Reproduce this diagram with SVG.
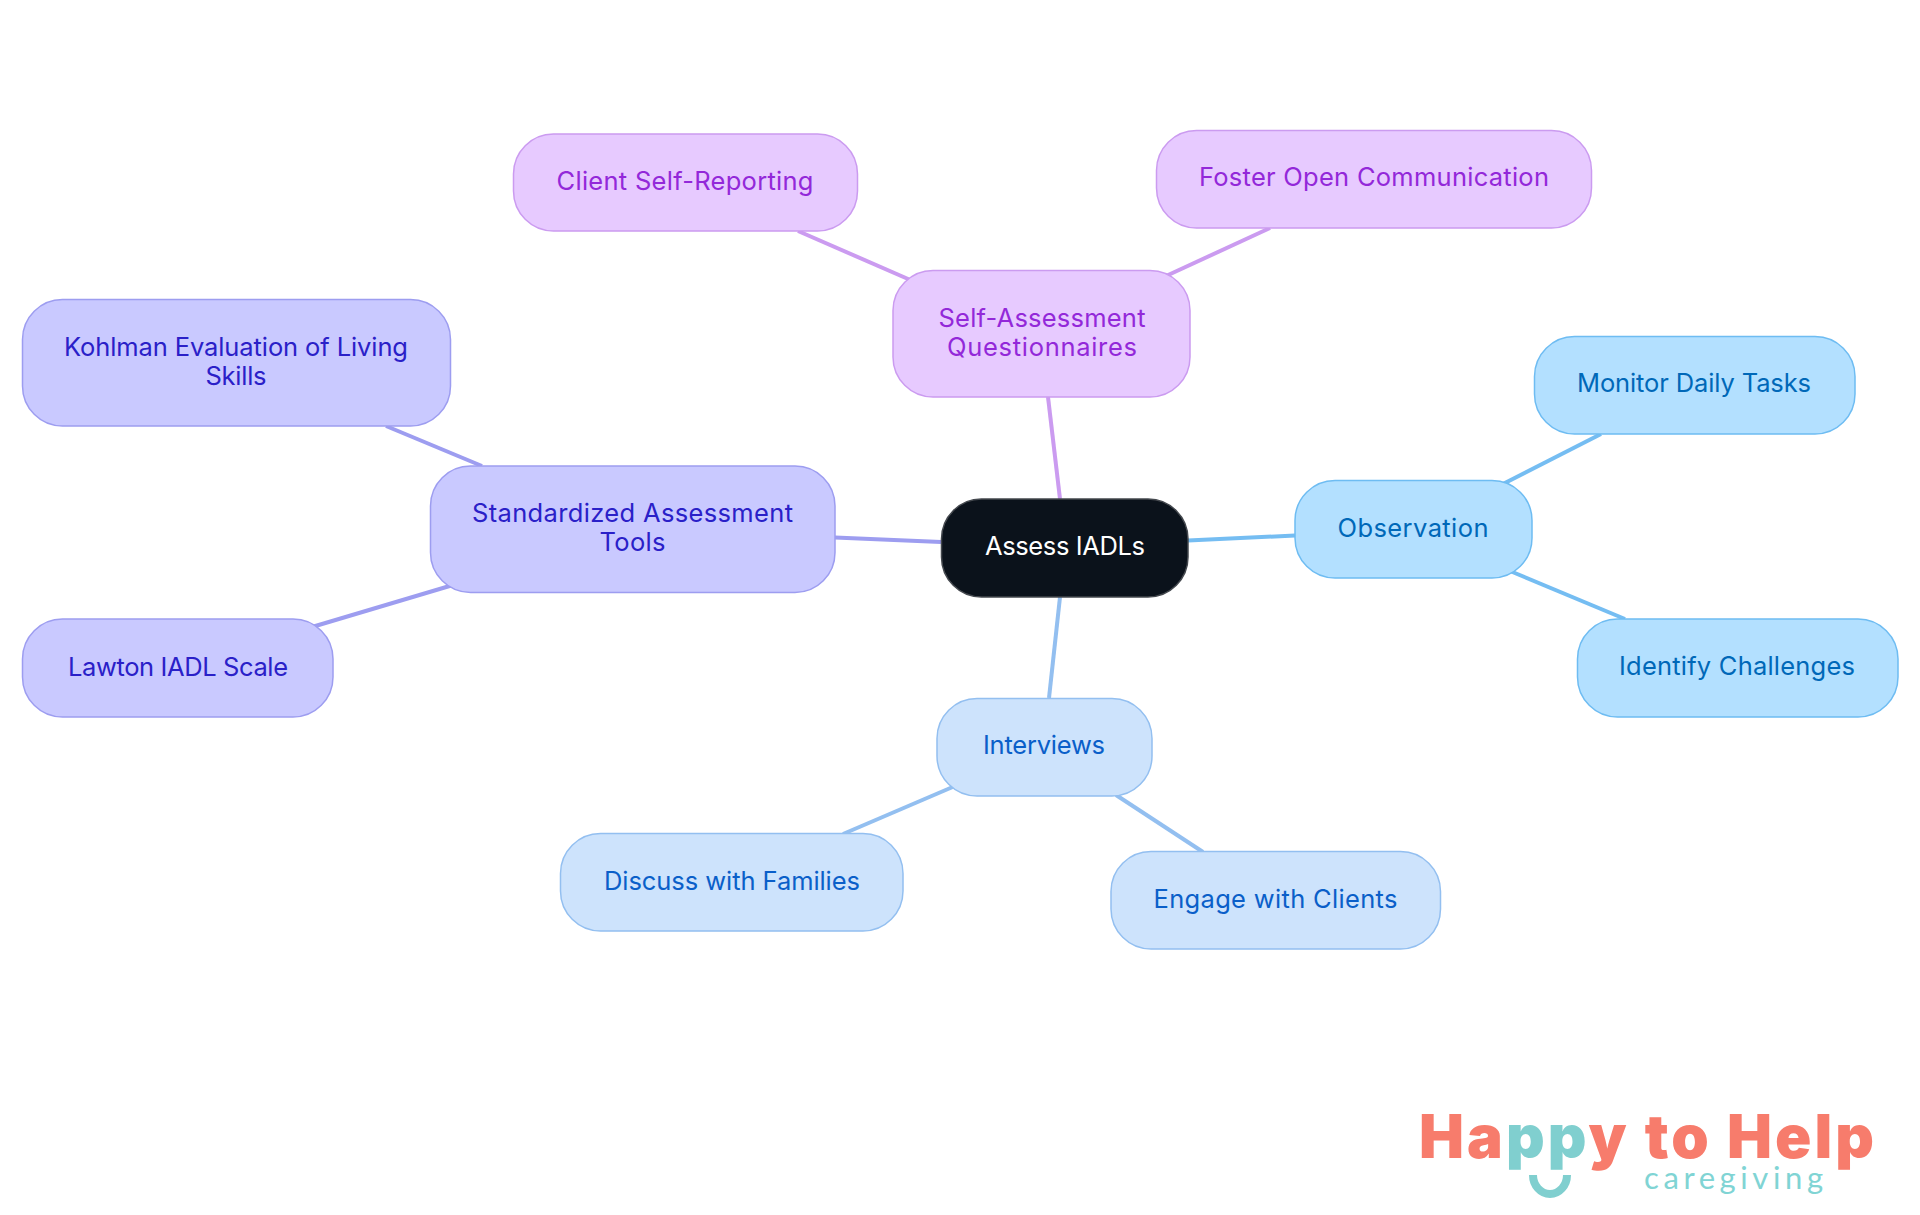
<svg xmlns="http://www.w3.org/2000/svg" width="1920" height="1215" viewBox="0 0 1920 1215">
<style>
text{font-family:"Inter","Noto Sans",sans-serif;font-size:25.5px;text-anchor:middle}
.n{stroke-width:1.5}
.l{fill:none;stroke-width:4}
.sky rect{fill:#b3e0ff;stroke:#6ebcf2}.sky text{fill:#0068b8}
.blue rect{fill:#cde3fc;stroke:#93bff0}.blue text{fill:#0a5fc9}
.ind rect{fill:#c9c9ff;stroke:#9d9df0}.ind text{fill:#2a20c8}
.pur rect{fill:#e7caff;stroke:#cb9bf0}.pur text{fill:#9328d9}
#logo .big{font-family:"Inter",sans-serif;font-weight:900;font-size:60px;text-anchor:start;fill:#f77c6c}
#logo .small{font-family:"Lato",sans-serif;font-size:31px;text-anchor:start;fill:#80d4d4}
</style>
<rect width="1920" height="1215" fill="#fff"/>
<g id="connectors" class="l">
<path d="M1188 540.500L1295 535.500" stroke="#75bdf2"/>
<path d="M1499 486L1601 434" stroke="#75bdf2"/>
<path d="M1510 571L1625 619" stroke="#75bdf2"/>
<path d="M1060 597L1049 698" stroke="#93bff0"/>
<path d="M955 786L843 834" stroke="#93bff0"/>
<path d="M1116 795L1203 852" stroke="#93bff0"/>
<path d="M941 542L835 537.500" stroke="#9d9df0"/>
<path d="M482 466L386 426" stroke="#9d9df0"/>
<path d="M453 585L312 627" stroke="#9d9df0"/>
<path d="M1060 499L1048 397" stroke="#cb9bf0"/>
<path d="M915 282L798 231" stroke="#cb9bf0"/>
<path d="M1166 276L1270 228" stroke="#cb9bf0"/>
</g>
<g id="n0"><rect x="941.500" y="499" width="246.500" height="98" rx="40" fill="#0b121b" stroke="#44484e" stroke-width="1.5"/><text x="1065" y="555" fill="#fff" textLength="160">Assess IADLs</text></g>
<g id="n1" class="sky"><rect class="n" x="1295" y="480.500" width="237" height="97.500" rx="40"/><text x="1413" y="537" textLength="151">Observation</text></g>
<g id="n2" class="sky"><rect class="n" x="1534.500" y="336.500" width="320.500" height="97.500" rx="40"/><text x="1694" y="392" textLength="234">Monitor Daily Tasks</text></g>
<g id="n3" class="sky"><rect class="n" x="1577.500" y="619" width="320.500" height="98" rx="40"/><text x="1737" y="675" textLength="236">Identify Challenges</text></g>
<g id="n4" class="blue"><rect class="n" x="937" y="698.500" width="215" height="97.500" rx="40"/><text x="1044" y="754" textLength="122">Interviews</text></g>
<g id="n5" class="blue"><rect class="n" x="560.500" y="833.500" width="342.500" height="97.500" rx="40"/><text x="732" y="890" textLength="256">Discuss with Families</text></g>
<g id="n6" class="blue"><rect class="n" x="1111" y="851.500" width="329.500" height="97.500" rx="40"/><text x="1275.500" y="908" textLength="244">Engage with Clients</text></g>
<g id="n7" class="ind"><rect class="n" x="430.500" y="466" width="404.500" height="126.500" rx="40"/><text x="632.500" y="522" textLength="321">Standardized Assessment</text><text x="632.500" y="551" textLength="66">Tools</text></g>
<g id="n8" class="ind"><rect class="n" x="22.500" y="299.500" width="428" height="126.500" rx="40"/><text x="236" y="356" textLength="344">Kohlman Evaluation of Living</text><text x="236" y="385" textLength="61">Skills</text></g>
<g id="n9" class="ind"><rect class="n" x="22.500" y="619" width="310.500" height="98" rx="40"/><text x="178" y="676" textLength="220">Lawton IADL Scale</text></g>
<g id="n10" class="pur"><rect class="n" x="893" y="270.500" width="297" height="126.500" rx="40"/><text x="1042" y="327" textLength="207">Self-Assessment</text><text x="1042" y="356" textLength="190">Questionnaires</text></g>
<g id="n11" class="pur"><rect class="n" x="513.500" y="134" width="344" height="97" rx="40"/><text x="685" y="190" textLength="257">Client Self-Reporting</text></g>
<g id="n12" class="pur"><rect class="n" x="1156.500" y="130.500" width="435" height="97.500" rx="40"/><text x="1374" y="186" textLength="350">Foster Open Communication</text></g>
<g id="logo">
<text class="big" x="1419" y="1158" textLength="455">Ha<tspan style="fill:#80cfcf">pp</tspan>y to Help</text>
<path d="M1533 1175a17 19 0 0 0 34 0" fill="none" stroke="#80cfcf" stroke-width="8"/>
<text class="small" x="1644" y="1189" textLength="179">caregiving</text>
</g>
</svg>
